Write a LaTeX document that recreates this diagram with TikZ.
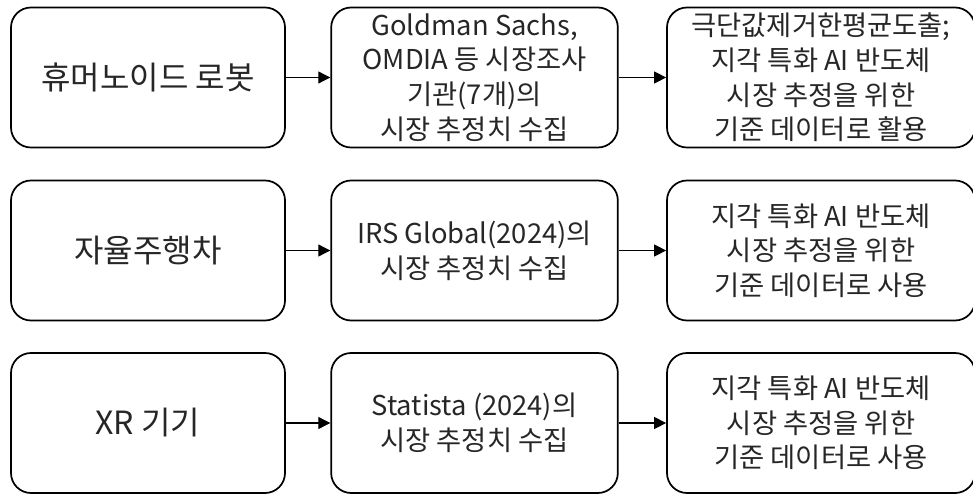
\documentclass[tikz,border=0pt]{standalone}
\usepackage{fontspec}
\setmainfont{Noto Sans CJK KR}
\usetikzlibrary{arrows.meta}
\begin{document}
\begin{tikzpicture}[x=0.75pt,y=-0.75pt,
  box/.style={draw=black,line width=1.3pt,rounded corners=15pt,
    inner sep=0pt,align=center,text=black!85,
    font=\fontsize{20.5}{26}\selectfont},
  colA/.style={box,minimum width=205.5pt,minimum height=105pt,
    font=\fontsize{24}{28}\selectfont},
  colB/.style={box,minimum width=215pt,minimum height=105pt},
  colC/.style={box,minimum width=231pt,minimum height=105pt},
  flow/.style={line width=0.8pt,-{Triangle[length=9pt,width=9pt]}}]
\useasboundingbox (0,0) rectangle (973,495);

% row 1: humanoid robots
\node[colA] (a1) at (148,77.5) {휴머노이드 로봇};
\node[colB] (b1) at (474.5,77.5) {Goldman Sachs,\\OMDIA 등 시장조사\\기관(7개)의\\시장 추정치 수집};
\node[colC] (c1) at (821,77.5) {극단값제거한평균도출;\\지각 특화 AI 반도체\\시장 추정을 위한\\기준 데이터로 활용};

% row 2: autonomous vehicles
\node[colA] (a2) at (148,250.5) {자율주행차};
\node[colB] (b2) at (474.5,250.5) {IRS Global(2024)의\\시장 추정치 수집};
\node[colC] (c2) at (821,250.5) {지각 특화 AI 반도체\\시장 추정을 위한\\기준 데이터로 사용};

% row 3: XR devices
\node[colA] (a3) at (148,423) {XR 기기};
\node[colB] (b3) at (474.5,423) {Statista (2024)의\\시장 추정치 수집};
\node[colC] (c3) at (821,423) {지각 특화 AI 반도체\\시장 추정을 위한\\기준 데이터로 사용};

\foreach \r in {1,2,3}{
  \draw[flow] (a\r.east) -- (b\r.west);
  \draw[flow] (b\r.east) -- (c\r.west);
}
\end{tikzpicture}
\end{document}
